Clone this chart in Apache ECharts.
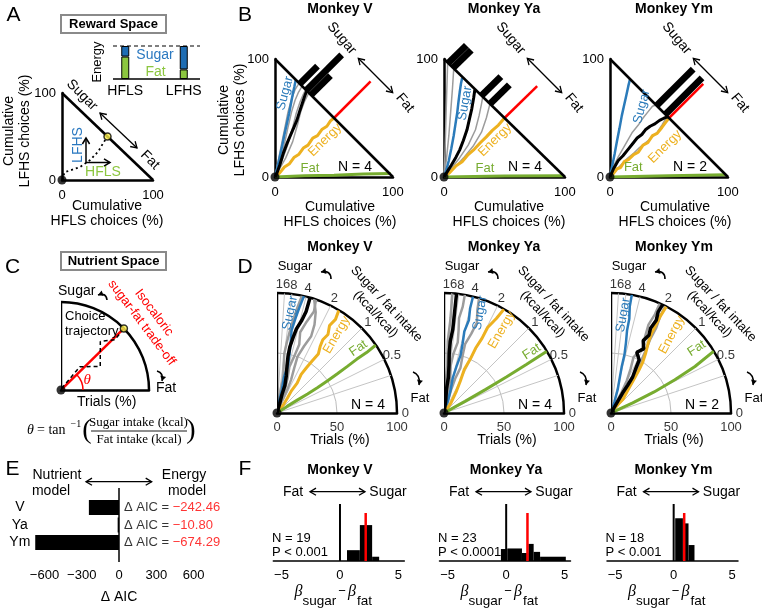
<!DOCTYPE html>
<html><head><meta charset="utf-8">
<script src="https://cdn.jsdelivr.net/npm/echarts@6/dist/echarts.min.js"></script>
<style>html,body{margin:0;padding:0;background:#fff}#c{width:762px;height:609px}</style>
</head><body><div id="c"></div>
<script>
// ================= DATA =================
const aInsetCategories = ['HFLS', 'LFHS'];
const aInsetFat = [0.68, 0.29];
const aInsetSugar = [0.32, 0.71];
const aTrajectory = [[0,0],[3,9],[20,15],[31,23],[40,33],[45,42],[50,50]];
const aChoicePoint = [[50,50]];
const spaceBoundary = [[0,100],[100,0]];
const axisTicks = [0, 100];

const monkeys = ['Monkey V', 'Monkey Ya', 'Monkey Ym'];
const sessionsN = [4, 4, 2];

const bSugarV  = [[0,0],[2,8],[4,17],[6,26],[8,36],[10,45],[12,54],[13.5,62],[15,70],[16.5,77],[17.5,82]];
const bEnergyV = [[0,0],[4,3.5],[8,8.5],[12,11],[16,16.5],[20,19],[24,24.5],[28,27],[32,33],[36,35],[40,40.5],[44,43],[47,47.5],[50,50]];
const bFatV    = [[0,0],[25,1],[50,1.5],[75,2.5],[98,3]];
const bMeanV   = [[0,0],[1.5,3],[4,10],[7,20],[10,28],[13,35],[16,42],[18.5,48],[21,56],[23,62],[25,68],[26.5,72],[28,74]];
const bSessV   = [
  [[0,0],[2,10],[5,25],[8,40],[11,55],[14,66],[17,74],[20,79]],
  [[0,0],[4,12],[8,28],[11,42],[14,55],[17,65],[20,72],[23,77]],
  [[0,0],[6,14],[11,28],[15,42],[18,54],[21,63],[24,70],[26,74]],
  [[0,0],[9,16],[15,30],[19,44],[22,56],[25,64],[28,70],[30,71]]
];
const bIsoV    = [[50,50],[81,81]];
const bHistV   = [[21,15],[26.5,30],[30.5,16.5]];

const bSugarYa  = [[0,0],[2,6],[4,14],[6,24],[8,35],[9.5,45],[11,55],[12,64],[13,72],[14,79],[15,84]];
const bEnergyYa = [[0,0],[5,4],[10,9.5],[15,13],[20,19],[25,23.5],[30,29],[35,34],[40,39.5],[45,44],[50,50]];
const bFatYa    = [[0,0],[50,0.8],[99,1]];
const bMeanYa   = [[0,0],[3,5],[6,10],[10,17],[13,23],[16,31],[19,40],[21,49],[23,58],[24.5,67],[25.5,74]];
const bSessYa   = [
  [[0,0],[0.8,20],[1.5,45],[2.2,70],[3,96]],
  [[0,0],[2,15],[4,35],[5.5,55],[7,75],[8,91]],
  [[0,0],[5,6],[12,15],[20,27],[26,40],[29,52],[31,62],[32,68]],
  [[0,0],[8,7],[16,16],[24,26],[31,38],[35,50],[37,58],[38,62]]
];
const bIsoYa    = [[50,50],[77,77]];
const bHistYa   = [[3.5,15],[7.5,15],[31,16],[38,16]];

const bSugarYm  = [[0,0],[2,10],[4,20],[6,31],[8,41],[10,52],[12,61],[14,70],[15.5,77],[17,83]];
const bEnergyYm = [[0,0],[3,3],[6,7],[9,8],[12,13],[16,15],[20,19],[24,21],[28,27],[32,29],[36,35],[40,37],[44,42],[47,46],[50,50]];
const bFatYm    = [[0,0],[50,1],[98,2]];
const bMeanYm   = [[0,0],[3,7],[7,14],[11,18],[15,23],[19,28],[23,33],[27,36],[30,40],[34,43],[38,45],[42,48],[46,50],[49,51]];
const bSessYm   = [
  [[0,0],[3,9],[7,17],[11,24],[15,31],[19,38],[24,44],[28,50],[32,55],[36,60],[39,61]],
  [[0,0],[5,6],[10,11],[15,16],[20,20],[25,25],[30,29],[35,33],[40,38],[44,44],[47,49]]
];
const bIsoYm    = [[50,50],[79,79]];
const bHistYm   = [[39.5,31],[47,31]];

const cIsoLine = [[0,44.4],[100,44.4]];
const cTrajectory = [[2,67],[34,51],[52,31],[71,51],[84,43],[100,44.4]];
const cEndPoint = [[100,44.4]];

const dRatioTicks = [16, 8, 4, 2, 1, 0.5, 0];
const dSpokeRatios = [16, 8, 4, 2, 1, 0.5, 0.33];
const dTrialTicks = [0, 50, 100];

const dFatV    = [[0,33],[10,33.5],[20,32.5],[30,32],[40,32],[50,32.5],[60,33],[70,33.5],[80,34],[90,34],[100,34.5]];
const dEnergyV = [[0,56],[8,52],[15,55],[22,57],[30,56],[38,58],[45,57],[52,56],[60,55],[66,57],[72,58],[78,57],[85,59],[92,58],[100,59]];
const dSugarV  = [[0,78],[10,80],[20,78],[30,79],[40,77],[50,78],[60,79],[70,80],[80,79],[90,78],[100,77]];
const dMeanV   = [[0,76],[8,74],[16,75],[24,74],[32,76],[40,78],[48,79],[56,79],[64,78],[72,77],[80,75],[88,74],[96,74],[100,74]];
const dSessV   = [
  [[0,70],[10,68],[20,66],[30,67],[40,69],[50,70],[60,68],[70,66],[80,67],[90,69],[100,72]],
  [[0,82],[10,83],[20,81],[30,80],[40,82],[50,83],[60,82],[70,81],[80,80],[90,79],[100,78]],
  [[0,74],[10,72],[20,71],[30,73],[40,75],[50,73],[60,72],[70,74],[80,72],[90,70],[100,71]]
];

const dFatYa    = [[0,28],[20,29],[40,29.5],[60,30],[80,30.5],[100,31]];
const dEnergyYa = [[0,52],[10,55],[20,60],[30,63],[40,65],[50,64],[60,64],[70,63],[80,63],[90,61],[100,60]];
const dSugarYa  = [[0,70],[10,72],[20,74],[30,76],[40,75],[50,74],[60,75],[70,76],[80,75],[90,76],[100,76]];
const dMeanYa   = [[0,80],[10,82],[20,84],[30,83],[40,84],[50,85],[60,85],[70,84],[80,84],[90,84],[100,84]];
const dSessYa   = [
  [[0,86],[20,87],[40,86],[60,87],[80,86],[100,86]],
  [[0,78],[10,76],[20,78],[30,80],[40,82],[50,81],[60,79],[70,80],[80,81],[90,80],[100,80]],
  [[0,74],[10,72],[20,73],[30,72],[40,70],[50,72],[60,73],[70,71],[80,70],[90,72],[100,73]]
];

const dFatYm    = [[0,24],[20,25],[40,26],[60,27.5],[80,29],[100,31]];
const dEnergyYm = [[0,48],[10,50],[15,49],[25,54],[35,56],[43,57],[50,58],[58,60],[66,62],[74,63],[82,63],[90,63],[100,62.5]];
const dSugarYm  = [[0,72],[10,73],[20,74],[30,76],[40,77],[50,77],[60,78],[70,79],[80,79],[90,80],[100,80]];
const dMeanYm   = [[0,58],[10,60],[19,60],[27,59],[35,59],[43,61],[50,62],[55,67],[60,63],[66,66],[72,64],[78,65],[86,64],[93,65],[100,64.5]];
const dSessYm   = [
  [[0,62],[10,64],[20,63],[30,64],[40,66],[50,68],[55,66],[60,64],[70,66],[80,67],[90,66],[100,66]],
  [[0,55],[10,57],[20,57],[30,56],[40,58],[50,60],[60,61],[70,62],[80,62],[90,63],[100,63]]
];

const eModels = ['V', 'Ya', 'Ym'];
const eDeltaAIC = [-242.46, -10.80, -674.29];
const eTicks = [-600, -300, 0, 300, 600];

const fTicks = [-5, 0, 5];
const fHistV  = [[0.6,1.7,0.19],[1.7,2.75,0.63],[2.75,3.35,0.075]];
const fHistYa = [[-0.45,0.1,0.21],[0.1,1.35,0.22],[1.35,1.9,0.14],[1.9,2.35,0.30],[2.35,2.9,0.16],[2.9,5.1,0.075]];
const fHistYm = [[0.13,0.79,0.75],[0.79,1.27,0.66],[1.27,1.78,0.28]];
const fMedian = [2.2, 1.82, 0.9];
const fMedianHeight = 0.84;
const fN = [19, 23, 18];
const fP = ['P < 0.001', 'P < 0.0001', 'P < 0.001'];

// ================= STYLE / LAYOUT =================
const FONT = '"Liberation Sans", Arial, sans-serif';
const SERIF = '"Liberation Serif", "Times New Roman", serif';
const BLUE = '#2b7bba', ORANGE = '#EDB120', GREEN = '#77AC30', RED = '#FF0000', GRAY = '#9c9c9c';
const LGREEN = '#8cc63f', DBLUE = '#1f6db3';

const bSets = [
  {sugar:bSugarV, energy:bEnergyV, fat:bFatV, mean:bMeanV, sess:bSessV, iso:bIsoV, hist:bHistV},
  {sugar:bSugarYa, energy:bEnergyYa, fat:bFatYa, mean:bMeanYa, sess:bSessYa, iso:bIsoYa, hist:bHistYa},
  {sugar:bSugarYm, energy:bEnergyYm, fat:bFatYm, mean:bMeanYm, sess:bSessYm, iso:bIsoYm, hist:bHistYm}
];
const dSets = [
  {sugar:dSugarV, energy:dEnergyV, fat:dFatV, mean:dMeanV, sess:dSessV},
  {sugar:dSugarYa, energy:dEnergyYa, fat:dFatYa, mean:dMeanYa, sess:dSessYa},
  {sugar:dSugarYm, energy:dEnergyYm, fat:dFatYm, mean:dMeanYm, sess:dSessYm}
];
const fSets = [fHistV, fHistYa, fHistYm];

const bLeft = [275, 444, 610], bWidth = [118, 121, 118], bTop = 59, bHeight = 118;
const bOff = [0, 169, 335];
const dCenterX = [277, 444, 611], dOff = [0, 167, 334];
const titleX = [340, 504, 674];
const fLeft = [273.3, 439.5, 607], fOff = [0, 166, 333.5];

const toAngle = r => Math.atan(r) * 180 / Math.PI;
const minus = v => (v < 0 ? '\u2212' : '') + Math.abs(v);

// ================= GRAPHIC HELPERS =================
const G = [];
function T(x, y, text, o = {}) {
  G.push({type:'text', x, y, rotation:(o.rot || 0) * Math.PI / 180, z:o.z || 100, zlevel:o.zl || 1, silent:true,
    style:{text, fill:o.color || '#000',
      font:(o.italic ? 'italic ' : '') + (o.bold ? 'bold ' : '') + (o.size || 13) + 'px ' + (o.family || FONT),
      align:o.align || 'center', verticalAlign:o.va || 'middle', lineHeight:o.lh || undefined}});
}
function Ln(x1, y1, x2, y2, o = {}) {
  G.push({type:'line', z:100, zlevel:1, silent:true, shape:{x1, y1, x2, y2},
    style:{stroke:o.color || '#000', lineWidth:o.w || 1.3, lineDash:o.dash || null}});
}
function head(tx, ty, ux, uy, o = {}) {
  const n = Math.hypot(ux, uy); ux /= n; uy /= n;
  const h = o.h || 6, s = o.s || 0.6;
  const bx = tx - h * ux, by = ty - h * uy, px = -uy * h * s, py = ux * h * s;
  if (o.filled) G.push({type:'polygon', z:100, zlevel:1, silent:true, shape:{points:[[tx,ty],[bx+px,by+py],[bx-px,by-py]]}, style:{fill:o.color || '#000'}});
  else G.push({type:'polyline', z:100, zlevel:1, silent:true, shape:{points:[[bx+px,by+py],[tx,ty],[bx-px,by-py]]}, style:{stroke:o.color || '#000', lineWidth:o.w || 1.3, fill:null}});
}
function arrow(x1, y1, x2, y2, o = {}) {
  Ln(x1, y1, x2, y2, o); head(x2, y2, x2 - x1, y2 - y1, o);
  if (o.double) head(x1, y1, x1 - x2, y1 - y2, o);
}
function curved(x1, y1, cx, cy, x2, y2) {
  G.push({type:'bezierCurve', z:100, zlevel:1, silent:true, shape:{x1, y1, x2, y2, cpx1:cx, cpy1:cy}, style:{stroke:'#000', lineWidth:1.6, fill:null}});
  head(x2, y2, x2 - cx, y2 - cy, {filled:true, h:5, s:0.6});
}

// ================= AXES / GRIDS =================
const grid = [], xAxis = [], yAxis = [], series = [];
const polar = [], angleAxis = [], radiusAxis = [];
const base = {silent:true, animation:false};
function line(o) { series.push(Object.assign({type:'line', symbol:'none', showSymbol:false}, base, o)); }
function dot(o) { series.push(Object.assign({type:'scatter', symbol:'circle', symbolSize:9, itemStyle:{color:'#000'}, clip:false, z:20}, base, o)); }

function triAxes(gi, xLabels) {
  const ax = (m, show) => ({gridIndex:gi, type:'value', min:0, max:100, interval:100,
    axisLine:{show:true, onZero:false, lineStyle:{color:'#000', width:2.5}},
    axisTick:{show:false}, splitLine:{show:false},
    axisLabel:{show, color:'#000', fontSize:13, fontFamily:FONT, margin:m, showMinLabel:true, showMaxLabel:true, hideOverlap:false,
      customValues:axisTicks}});
  xAxis.push(ax(9, xLabels)); yAxis.push(ax(6, true));
}

grid.push({left:62, top:93, width:91, height:87});
triAxes(0, true);
grid.push({left:96, top:46, width:117, height:33});
xAxis.push({gridIndex:1, type:'category', data:aInsetCategories, axisLine:{show:false}, axisTick:{show:false},
  axisLabel:{color:'#000', fontSize:14, fontFamily:FONT, margin:5, interval:0}});
yAxis.push({gridIndex:1, type:'value', min:0, max:1, show:false});
for (let k = 0; k < 3; k++) {
  grid.push({left:bLeft[k], top:bTop, width:bWidth[k], height:bHeight});
  triAxes(2 + k, false);
}
for (let k = 0; k < 3; k++) {
  grid.push({left:fLeft[k], top:504, width:131, height:57});
  xAxis.push({gridIndex:5 + k, type:'value', min:-5.7, max:5.5,
    axisLine:{onZero:false, lineStyle:{color:'#000', width:1.5}}, axisTick:{show:false}, splitLine:{show:false},
    axisLabel:{customValues:fTicks, formatter:v => minus(v), color:'#000', fontSize:13, fontFamily:FONT, margin:8}});
  yAxis.push({gridIndex:5 + k, type:'value', min:0, max:1, show:false});
}
grid.push({left:30.8, top:498.75, width:176.4, height:52.5});
xAxis.push({gridIndex:8, type:'value', min:-710, max:710, offset:10.75,
  axisLine:{onZero:false, lineStyle:{color:'#000', width:1.5}}, axisTick:{show:false}, splitLine:{show:false},
  axisLabel:{customValues:eTicks, formatter:v => minus(v), color:'#000', fontSize:13, fontFamily:FONT, margin:7}});
yAxis.push({gridIndex:8, type:'category', data:eModels, inverse:true, axisLine:{show:false, onZero:false}, axisTick:{show:false},
  axisLabel:{color:'#000', fontSize:14, fontFamily:FONT, align:'center', margin:11, interval:0}});

function polarAxes(pi, center, radius, split) {
  polar.push({center, radius});
  angleAxis.push({polarIndex:pi, type:'value', min:0, max:90, startAngle:0, endAngle:90, clockwise:false,
    axisLine:{lineStyle:{color:'#000', width:2.5}}, axisTick:{show:false}, axisLabel:{show:false}, splitLine:{show:false}});
  radiusAxis.push({polarIndex:pi, type:'value', min:0, max:100, interval:50,
    axisLine:{lineStyle:{color:'#000', width:2.5}}, axisTick:{show:false}, axisLabel:{show:false},
    splitLine:{show:split, lineStyle:{color:'#bdbdbd', width:1}}});
}
polarAxes(0, [61, 390], 88, false);
for (let k = 0; k < 3; k++) polarAxes(1 + k, [dCenterX[k], 413], 120, true);

// ================= SERIES =================
const cA = {xAxisIndex:0, yAxisIndex:0};
line(Object.assign({data:spaceBoundary, lineStyle:{color:'#000', width:2.5}, z:5}, cA));
line(Object.assign({data:aTrajectory, lineStyle:{color:'#000', width:1.8, type:[2,3]}, z:4}, cA));
dot(Object.assign({data:aChoicePoint, symbolSize:7, itemStyle:{color:'#fff34d', borderColor:'#000', borderWidth:1.5}}, cA));
dot(Object.assign({data:[[0,0]]}, cA));
series.push(Object.assign({type:'bar', xAxisIndex:1, yAxisIndex:1, stack:'e', data:aInsetFat, barWidth:8,
  itemStyle:{color:LGREEN, borderColor:'#000', borderWidth:1}}, base));
series.push(Object.assign({type:'bar', xAxisIndex:1, yAxisIndex:1, stack:'e', data:aInsetSugar, barWidth:8,
  itemStyle:{color:DBLUE, borderColor:'#000', borderWidth:1}}, base));

for (let k = 0; k < 3; k++) {
  const gi = 2 + k, c = {xAxisIndex:gi, yAxisIndex:gi};
  const s = bSets[k];
  s.sess.forEach(g => line(Object.assign({data:g, lineStyle:{color:GRAY, width:1.5}, z:3}, c)));
  line(Object.assign({data:s.sugar, lineStyle:{color:BLUE, width:2.5}, z:4}, c));
  line(Object.assign({data:s.energy, lineStyle:{color:ORANGE, width:3}, z:4}, c));
  line(Object.assign({data:s.fat, lineStyle:{color:GREEN, width:3}, z:4}, c));
  line(Object.assign({data:s.mean, lineStyle:{color:'#000', width:3}, z:5}, c));
  line(Object.assign({data:s.iso, lineStyle:{color:RED, width:2.5}, z:4, clip:false}, c));
  line(Object.assign({data:spaceBoundary, lineStyle:{color:'#000', width:2.5}, z:6}, c));
  series.push(Object.assign({type:'custom', clip:false, z:7, data:s.hist, encode:{x:0, y:1},
    renderItem:(params, api) => {
      const p = api.value(0), len = api.value(1), w = 2;
      const pts = [[p-w,100-p+w],[p+w,100-p-w],[p+w+len,100-p-w+len],[p-w+len,100-p+w+len]].map(q => api.coord(q));
      return {type:'polygon', shape:{points:pts}, style:{fill:'#000'}};
    }}, base, c));
  dot(Object.assign({data:[[0,0]]}, c));
}

const cC = {coordinateSystem:'polar', polarIndex:0};
line(Object.assign({data:[[0,90],[100,90]], lineStyle:{color:'#000', width:2.5}, z:5}, cC));
line(Object.assign({data:cIsoLine, lineStyle:{color:RED, width:2.5}, z:4}, cC));
line(Object.assign({data:cTrajectory, lineStyle:{color:'#000', width:1.5, type:[4,3]}, z:6}, cC));
dot(Object.assign({data:cEndPoint, symbolSize:7, itemStyle:{color:'#fff34d', borderColor:'#000', borderWidth:1.5}}, cC));
dot(Object.assign({data:[[0,0]]}, cC));

for (let k = 0; k < 3; k++) {
  const c = {coordinateSystem:'polar', polarIndex:1 + k};
  const s = dSets[k];
  dSpokeRatios.forEach(r => line(Object.assign({data:[[0,toAngle(r)],[100,toAngle(r)]], lineStyle:{color:'#c4c4c4', width:1}, z:2}, c)));
  s.sess.forEach(g => line(Object.assign({data:g, lineStyle:{color:GRAY, width:2.5}, z:3}, c)));
  line(Object.assign({data:s.sugar, lineStyle:{color:BLUE, width:2.5}, z:4}, c));
  line(Object.assign({data:s.energy, lineStyle:{color:ORANGE, width:3}, z:4}, c));
  line(Object.assign({data:s.fat, lineStyle:{color:GREEN, width:3}, z:4}, c));
  line(Object.assign({data:s.mean, lineStyle:{color:'#000', width:3.5}, z:5}, c));
  line(Object.assign({data:[[0,90],[100,90]], lineStyle:{color:'#000', width:2.5}, z:6}, c));
  dot(Object.assign({data:[[0,0]]}, c));
  series.push(Object.assign({type:'scatter', symbolSize:0, clip:false, z:10,
    data:dRatioTicks.map((r, i) => ({value:[107, toAngle(r)],
      label:{offset: i === 0 ? [-2, 0] : (i === 1 ? [1, 0] : [0, 0])}})),
    label:{show:true, position:'inside', formatter:p => String(dRatioTicks[p.dataIndex]), color:'#000', fontSize:13, fontFamily:FONT}}, base, c));
  series.push(Object.assign({type:'scatter', symbolSize:0, clip:false, z:10,
    data:dTrialTicks.map(t => [t, 0]),
    label:{show:true, position:'bottom', distance:8, formatter:p => String(dTrialTicks[p.dataIndex]), color:'#000', fontSize:13, fontFamily:FONT}}, base, c));
}

series.push(Object.assign({type:'bar', xAxisIndex:8, yAxisIndex:8, data:eDeltaAIC, barWidth:15, itemStyle:{color:'#000'}}, base));
series.push(Object.assign({type:'scatter', xAxisIndex:8, yAxisIndex:8, symbolSize:0, clip:false, z:10,
  data:eModels.map((m, i) => [0, i]),
  label:{show:true, position:'right', distance:5, fontSize:13, fontFamily:FONT,
    formatter:p => '{k|\u0394 AIC = }{r|' + (eDeltaAIC[p.dataIndex] < 0 ? '\u2212' : '') + Math.abs(eDeltaAIC[p.dataIndex]).toFixed(2) + '}',
    rich:{k:{color:'#000', fontSize:13, fontFamily:FONT}, r:{color:RED, fontSize:13, fontFamily:FONT}}}}, base));

for (let k = 0; k < 3; k++) {
  const gi = 5 + k, c = {xAxisIndex:gi, yAxisIndex:gi};
  series.push(Object.assign({type:'custom', z:4, data:fSets[k], encode:{x:[0,1], y:2},
    renderItem:(params, api) => {
      const a = api.coord([api.value(0), api.value(2)]), b = api.coord([api.value(1), 0]);
      return {type:'rect', shape:{x:a[0], y:a[1], width:b[0]-a[0], height:b[1]-a[1]}, style:{fill:'#000'}};
    }}, base, c));
  line(Object.assign({data:[[0,0],[0,1]], lineStyle:{color:'#000', width:2}, z:5}, c));
  line(Object.assign({data:[[fMedian[k],0],[fMedian[k],fMedianHeight]], lineStyle:{color:RED, width:2.5}, z:6}, c));
}

// ================= ANNOTATIONS =================
T(13.5, 15, 'A', {size:21}); T(245, 15, 'B', {size:21});
T(12.5, 267, 'C', {size:21}); T(245, 267, 'D', {size:21});
T(12.5, 469, 'E', {size:21}); T(245, 469, 'F', {size:21});

G.push({type:'rect', z:99, zlevel:1, silent:true, shape:{x:61, y:15, width:105, height:18}, style:{fill:'#fff', stroke:'#8a8a8a', lineWidth:2}});
T(113.5, 24, 'Reward Space', {bold:true, size:13});
T(97, 62, 'Energy', {rot:90, size:13});
T(155, 55, 'Sugar', {color:'#2a78c0', size:14});
T(155.5, 71.7, 'Fat', {color:LGREEN, size:14});
Ln(113, 79, 200, 79, {w:1.5});
Ln(113, 46, 200, 46, {w:1.2, dash:[4,3]});
T(17, 131, 'Cumulative\nLFHS choices (%)', {rot:90, size:14, lh:16});
T(107, 214, 'Cumulative\nHFLS choices (%)', {size:14, lh:15});
T(82, 95, 'Sugar', {rot:-45, size:14});
arrow(100, 113, 137, 148, {double:true});
T(150, 160, 'Fat', {rot:-45, size:14});
T(77.7, 145, 'LFHS', {rot:90, size:14, color:'#2a78c0'});
arrow(86, 163, 86, 138, {w:1.5});
arrow(86, 162.5, 110, 162.5, {w:1.5});
T(103, 171.7, 'HFLS', {size:14, color:LGREEN});

T(232, 120, 'Cumulative\nLFHS choices (%)', {rot:90, size:14, lh:16});
const bLab = [
  {s:[285,93.3,75], e:[325,140,45], f:[310,168.3], n:[355,166.7]},
  {s:[465,103.3,80], e:[495,140,45], f:[485,168], n:[525,166.7]},
  {s:[641.7,106.7,75], e:[665,146.7,45], f:[633.3,167.7], n:[690,166.7]}
];
for (let k = 0; k < 3; k++) {
  const o = bOff[k], L = bLab[k];
  T(titleX[k], 9, monkeys[k], {bold:true, size:14});
  T(341.7 + o, 38.3, 'Sugar', {rot:-50, size:14});
  arrow(358.3 + o, 58.3, 392.7 + o, 92.7, {double:true});
  T(405 + o, 103, 'Fat', {rot:-50, size:14});
  T(L.s[0], L.s[1], 'Sugar', {rot:L.s[2], color:BLUE, size:13});
  T(L.e[0], L.e[1], 'Energy', {rot:L.e[2], color:ORANGE, size:13});
  T(L.f[0], L.f[1], 'Fat', {color:GREEN, size:13});
  T(L.n[0], L.n[1], 'N = ' + sessionsN[k], {size:14});
  // x tick labels and axis title in one text block per axis
  const x0 = bLeft[k], x1 = bLeft[k] + bWidth[k], yb = bTop + bHeight;
  T(x0, yb + 15, String(axisTicks[0]), {size:13, z:300, zl:2});
  T(x1 - 11, yb + 15, String(axisTicks[1]), {size:13, align:'left', z:300, zl:2});
  T(340 + o, yb + 30, 'Cumulative', {size:14, va:'middle'});
  T(340 + o, yb + 45, 'HFLS choices (%)', {size:14, va:'middle'});
}

G.push({type:'rect', z:99, zlevel:1, silent:true, shape:{x:61, y:252, width:105, height:18}, style:{fill:'#fff', stroke:'#8a8a8a', lineWidth:2}});
T(113.5, 261, 'Nutrient Space', {bold:true, size:13});
T(76.7, 290.7, 'Sugar', {size:14});
curved(107, 300, 106, 292, 98, 295);
T(65, 316.7, 'Choice', {size:13, align:'left'});
T(65, 331.7, 'trajectory', {size:13, align:'left'});
T(154, 312.7, 'Isocaloric', {rot:-53, color:RED, size:13});
T(141.7, 322.7, 'sugar-fat trade-off', {rot:-53, color:RED, size:13});
T(87.3, 380, '\u03B8', {italic:true, family:SERIF, size:15, color:RED});
G.push({type:'arc', z:100, zlevel:1, silent:true, shape:{cx:61, cy:390, r:22, startAngle:-44 * Math.PI / 180, endAngle:0, clockwise:true}, style:{stroke:RED, lineWidth:1.5, fill:null}});
T(166, 387.7, 'Fat', {size:14});
curved(157, 371, 164, 373, 162, 381);
T(106.7, 401.7, 'Trials (%)', {size:14});
T(27, 430, '\u03B8', {italic:true, family:SERIF, size:14, align:'left'});
T(37, 430, '= tan', {family:SERIF, size:14, align:'left'});
T(70.5, 424.5, '\u22121', {family:SERIF, size:10, align:'left'});
T(87, 430.5, '(', {family:SERIF, size:28});
T(191, 430.5, ')', {family:SERIF, size:28});
T(138.5, 422.5, 'Sugar intake (kcal)', {family:SERIF, size:13});
Ln(91, 431, 187, 431, {w:0.9});
T(139, 439.5, 'Fat intake (kcal)', {family:SERIF, size:13});

const dLab = [
  {s:[290,313,78], e:[336.7,335,60], f:[358.3,348.3,35]},
  {s:[480,313,80], e:[501.7,330,60], f:[531.7,351.7,33]},
  {s:[623.3,315,80], e:[671.7,335,62], f:[696.7,348.3,33]}
];
for (let k = 0; k < 3; k++) {
  const o = dOff[k], L = dLab[k];
  T(titleX[k], 247, monkeys[k], {bold:true, size:14});
  T(295 + o, 266.7, 'Sugar', {size:13});
  curved(331 + o, 279, 331 + o, 270, 321 + o, 272);
  T(381 + o, 309, 'Sugar / fat intake\n(kcal/kcal)', {rot:-47, size:13, lh:15});
  T(420 + o, 398.3, 'Fat', {size:13});
  curved(413 + o, 372, 421 + o, 375, 419 + o, 385);
  T(368 + o, 405, 'N = ' + sessionsN[k], {size:14});
  T(340 + o, 440, 'Trials (%)', {size:14});
  T(L.s[0], L.s[1], 'Sugar', {rot:L.s[2], color:BLUE, size:13});
  T(L.e[0], L.e[1], 'Energy', {rot:L.e[2], color:ORANGE, size:13});
  T(L.f[0], L.f[1], 'Fat', {rot:L.f[2], color:GREEN, size:13});
}

T(57, 475, 'Nutrient', {size:14}); T(51, 491, 'model', {size:14});
T(184, 475, 'Energy', {size:14}); T(187, 491, 'model', {size:14});
arrow(86, 481.7, 151.7, 481.7, {double:true});
T(119, 597, '\u0394 AIC', {size:14});

for (let k = 0; k < 3; k++) {
  const o = fOff[k];
  T(340 + o, 470, monkeys[k], {bold:true, size:14});
  T(293 + o, 491.7, 'Fat', {size:14});
  arrow(310 + o, 491.7, 365 + o, 491.7, {double:true});
  T(388 + o, 491.7, 'Sugar', {size:14});
  T(272 + o, 538, 'N = ' + fN[k], {size:13, align:'left'});
  T(272 + o, 552.7, fP[k], {size:13, align:'left'});
  T(298.5 + o, 592, '\u03B2', {italic:true, family:SERIF, size:16});
  T(302.5 + o, 601, 'sugar', {size:13.5, align:'left'});
  T(342 + o, 591, '\u2212', {size:13});
  T(352 + o, 592, '\u03B2', {italic:true, family:SERIF, size:16});
  T(357 + o, 601, 'fat', {size:13.5, align:'left'});
}

// ================= RENDER =================
const chart = echarts.init(document.getElementById('c'), null, {renderer:'canvas', width:762, height:609});
const option = {animation:false, backgroundColor:'#fff', grid, xAxis, yAxis, polar, angleAxis, radiusAxis, series,
  graphic:{elements:G}};
chart.setOption(option);
const zx = chart.convertToPixel({gridIndex:8}, [0, 0])[0];
G.push({type:'line', z:100, zlevel:1, silent:true, shape:{x1:zx, y1:488, x2:zx, y2:562}, style:{stroke:'#000', lineWidth:1.5}});
chart.setOption(option, true);
</script></body></html>
